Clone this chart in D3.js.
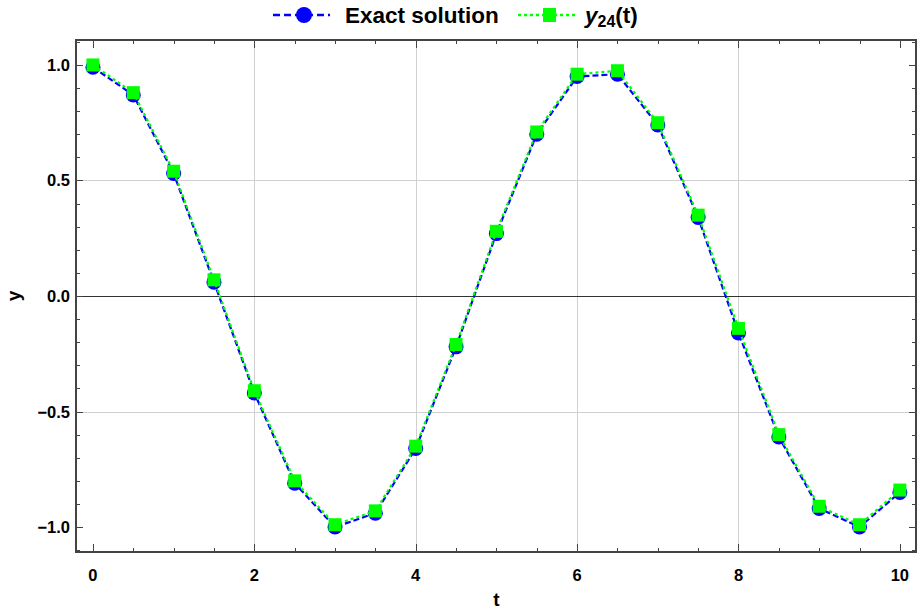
<!DOCTYPE html>
<html>
<head>
    <meta charset="utf-8">
    <title>Exact solution vs y24</title>
    <style>
        body { margin: 0; background: #fff; font-family: "Liberation Sans", Arial, sans-serif; }
        .tick-label { font-size: 16.5px; font-weight: bold; fill: #000; }
        .grid-line { stroke: #d0d0d0; stroke-width: 1; shape-rendering: crispEdges; }
        .frame { fill: none; stroke: #444; stroke-width: 1.5; shape-rendering: crispEdges; }
    </style>
    <script src="https://d3js.org/d3.v7.min.js"></script>
</head>
<body>
<script>
    var tValues = [0, 0.5, 1, 1.5, 2, 2.5, 3, 3.5, 4, 4.5, 5, 5.5, 6, 6.5, 7, 7.5, 8, 8.5, 9, 9.5, 10];
    var exactValues = [0.99, 0.87, 0.53, 0.06, -0.42, -0.81, -1.0, -0.94, -0.66, -0.22, 0.27,
                       0.70, 0.95, 0.96, 0.74, 0.34, -0.16, -0.61, -0.92, -1.0, -0.85];
    var y24Values = [1.0, 0.88, 0.54, 0.07, -0.41, -0.80, -0.99, -0.93, -0.65, -0.21, 0.28,
                     0.71, 0.96, 0.975, 0.75, 0.35, -0.14, -0.60, -0.91, -0.99, -0.84];
    var xTicks = [0, 2, 4, 6, 8, 10];
    var yTicks = [-1.0, -0.5, 0.0, 0.5, 1.0];

    var width = 918, height = 610;
    var plot = {left: 76, right: 916, top: 40, bottom: 552};

    var x = d3.scaleLinear().domain([-0.21, 10.2]).range([plot.left, plot.right]);
    var y = d3.scaleLinear().domain([-1.108, 1.108]).range([plot.bottom, plot.top]);

    var svg = d3.select("body").append("svg")
        .attr("width", width)
        .attr("height", height);

    // grid
    svg.append("g").selectAll("line").data([2, 4, 6, 8]).enter().append("line")
        .attr("class", "grid-line")
        .attr("x1", function (d) { return Math.round(x(d)) + 0.5; })
        .attr("x2", function (d) { return Math.round(x(d)) + 0.5; })
        .attr("y1", plot.top).attr("y2", plot.bottom);
    svg.append("g").selectAll("line").data([-0.5, 0.5]).enter().append("line")
        .attr("class", "grid-line")
        .attr("x1", plot.left).attr("x2", plot.right)
        .attr("y1", function (d) { return Math.round(y(d)) + 0.5; })
        .attr("y2", function (d) { return Math.round(y(d)) + 0.5; });

    // zero line
    svg.append("line")
        .attr("x1", plot.left).attr("x2", plot.right)
        .attr("y1", Math.round(y(0)) + 0.5).attr("y2", Math.round(y(0)) + 0.5)
        .attr("stroke", "#333").attr("stroke-width", 1.2);

    // frame ticks (inward)
    var xMinor = d3.range(0, 10.01, 0.5);
    var yMinor = d3.range(-11, 12).map(function (d) { return d / 10; });

    function isMajor(v, step) { return Math.abs(v / step - Math.round(v / step)) < 1e-6; }

    var ticksG = svg.append("g").attr("stroke", "#444").attr("stroke-width", 1);
    xMinor.forEach(function (d) {
        var len = isMajor(d, 2) ? 8 : 4;
        var px = Math.round(x(d)) + 0.5;
        ticksG.append("line").attr("x1", px).attr("x2", px)
            .attr("y1", plot.bottom).attr("y2", plot.bottom - len);
        ticksG.append("line").attr("x1", px).attr("x2", px)
            .attr("y1", plot.top).attr("y2", plot.top + len);
    });
    yMinor.forEach(function (d) {
        var len = isMajor(d, 0.5) ? 7 : 4;
        var py = Math.round(y(d)) + 0.5;
        ticksG.append("line").attr("y1", py).attr("y2", py)
            .attr("x1", plot.left).attr("x2", plot.left + len);
        ticksG.append("line").attr("y1", py).attr("y2", py)
            .attr("x1", plot.right).attr("x2", plot.right - len);
    });

    svg.append("rect").attr("class", "frame")
        .attr("x", plot.left).attr("y", plot.top)
        .attr("width", plot.right - plot.left).attr("height", plot.bottom - plot.top);

    // tick labels
    svg.append("g").selectAll("text").data(xTicks).enter().append("text")
        .attr("class", "tick-label")
        .attr("x", function (d) { return x(d); })
        .attr("y", 581)
        .attr("text-anchor", "middle")
        .text(function (d) { return d; });
    svg.append("g").selectAll("text").data(yTicks).enter().append("text")
        .attr("class", "tick-label")
        .attr("x", 70)
        .attr("y", function (d) { return y(d) + 6; })
        .attr("text-anchor", "end")
        .text(function (d) { return d < 0 ? "\u2212" + Math.abs(d).toFixed(1) : d.toFixed(1); });

    // axis titles
    svg.append("text").attr("x", x(5)).attr("y", 606)
        .attr("text-anchor", "middle").attr("font-size", 19).attr("font-weight", "bold")
        .text("t");
    svg.append("text").attr("transform", "translate(20," + y(0) + ") rotate(-90)")
        .attr("text-anchor", "middle").attr("font-size", 19).attr("font-weight", "bold")
        .text("y");

    // series
    var exactData = tValues.map(function (t, i) { return {t: t, v: exactValues[i]}; });
    var y24Data = tValues.map(function (t, i) { return {t: t, v: y24Values[i]}; });
    var line = d3.line().x(function (d) { return x(d.t); }).y(function (d) { return y(d.v); });

    svg.append("path").datum(exactData)
        .attr("d", line).attr("fill", "none")
        .attr("stroke", "#0000ff").attr("stroke-width", 2.2).attr("stroke-dasharray", "6,3");
    svg.append("g").selectAll("circle").data(exactData).enter().append("circle")
        .attr("cx", function (d) { return x(d.t); })
        .attr("cy", function (d) { return y(d.v); })
        .attr("r", 7.5).attr("fill", "#0000ff");

    svg.append("path").datum(y24Data)
        .attr("d", line).attr("fill", "none")
        .attr("stroke", "#00ff00").attr("stroke-width", 2.2).attr("stroke-dasharray", "3,3");
    svg.append("g").selectAll("rect").data(y24Data).enter().append("rect")
        .attr("x", function (d) { return x(d.t) - 6.5; })
        .attr("y", function (d) { return y(d.v) - 6.5; })
        .attr("width", 13).attr("height", 13).attr("fill", "#00ff00");

    // legend
    var legend = svg.append("g");
    legend.append("line").attr("x1", 273).attr("x2", 330).attr("y1", 15).attr("y2", 15)
        .attr("stroke", "#0000ff").attr("stroke-width", 2.5).attr("stroke-dasharray", "7,4");
    legend.append("circle").attr("cx", 304).attr("cy", 15).attr("r", 8).attr("fill", "#0000ff");
    legend.append("text").attr("x", 345).attr("y", 22.5)
        .attr("font-size", 22.5).attr("font-weight", "bold").text("Exact solution");

    legend.append("line").attr("x1", 518).attr("x2", 575).attr("y1", 15).attr("y2", 15)
        .attr("stroke", "#00ff00").attr("stroke-width", 2.5).attr("stroke-dasharray", "3,3");
    legend.append("rect").attr("x", 543).attr("y", 8).attr("width", 13).attr("height", 14)
        .attr("fill", "#00ff00");
    var lt = legend.append("text").attr("x", 585).attr("y", 22.5)
        .attr("font-size", 22.5).attr("font-weight", "bold");
    lt.append("tspan").attr("font-style", "italic").text("y");
    lt.append("tspan").attr("font-size", 16).attr("dy", 4).text("24");
    lt.append("tspan").attr("dy", -4).text("(t)");
</script>
</body>
</html>
